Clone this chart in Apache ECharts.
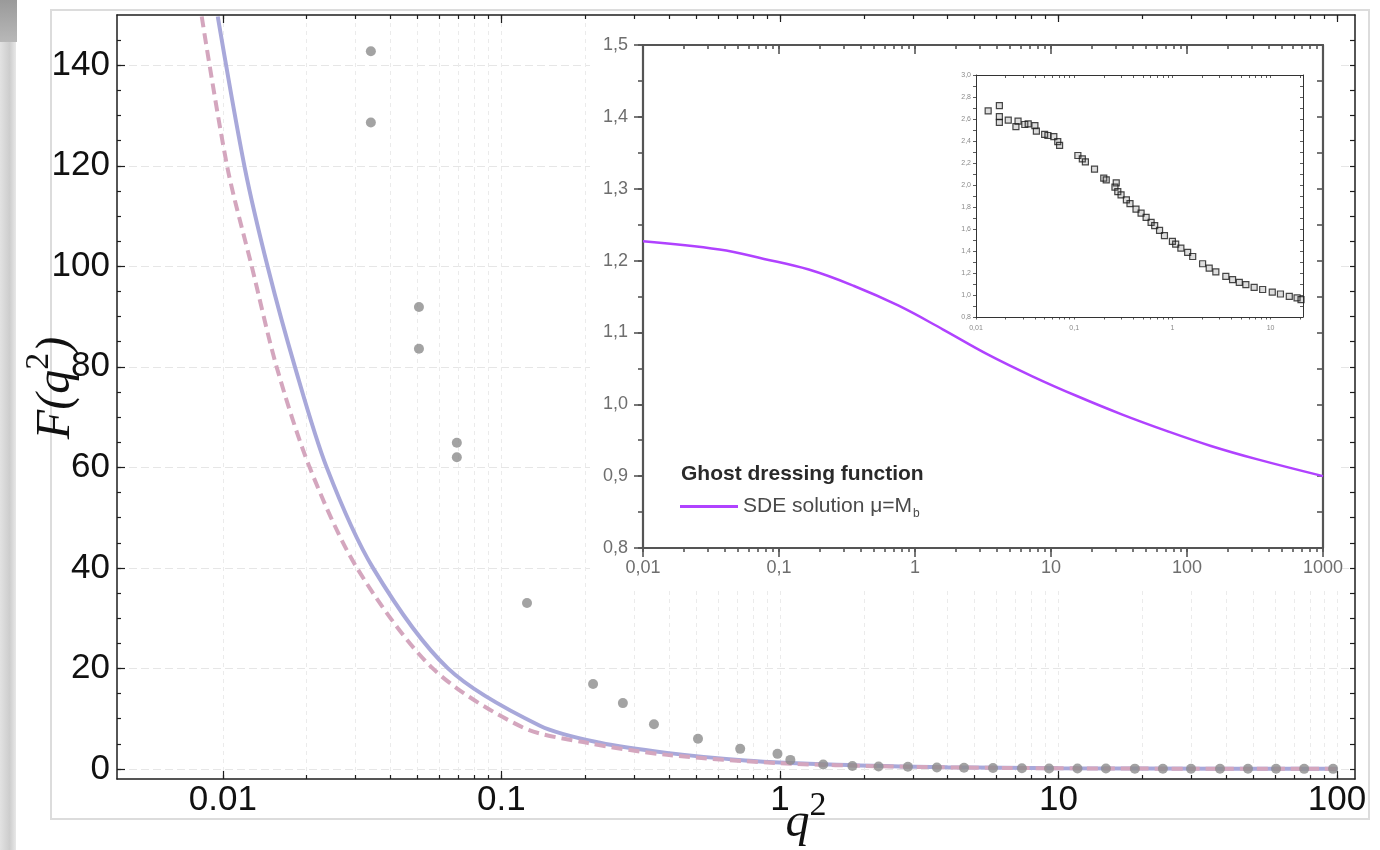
<!DOCTYPE html>
<html><head><meta charset="utf-8">
<script src="https://cdn.jsdelivr.net/npm/echarts@6/dist/echarts.min.js"></script>
<style>html,body{margin:0;padding:0;background:#fff}#c{width:1380px;height:850px}</style>
</head><body><div id="c"></div>
<script>
// ---------- main plot data ----------
const mainSolidQ2 = [0.00959, 0.0120, 0.01452, 0.01815, 0.0236, 0.0346, 0.0643, 0.1375, 0.226, 0.393, 0.75, 1.6, 4, 10, 40, 100];
const mainSolidF  = [149.7, 119.5, 99.7, 80, 60, 40, 20, 8.6, 5.2, 3.2, 1.7, 0.85, 0.35, 0.15, 0.04, 0.015];
const mainDashedQ2 = [0.0084, 0.0104, 0.0127, 0.0156, 0.0205, 0.0303, 0.0567, 0.119, 0.203, 0.393, 1.0, 2.5, 6.5, 20, 100];
const mainDashedF  = [149.7, 119.5, 100, 80, 60, 40, 20, 8.3, 5.2, 2.8, 1.15, 0.5, 0.2, 0.07, 0.013];
const mainPointsQ2 = [0.0340, 0.0340, 0.0506, 0.0506, 0.0692, 0.0692, 0.1236, 0.2134, 0.273, 0.353, 0.508, 0.72, 0.98, 1.09, 1.43, 1.82, 2.26, 2.88, 3.66, 4.58, 5.82, 7.39, 9.25, 11.7, 14.8, 18.8, 23.7, 29.9, 38.0, 47.9, 60.4, 76.2, 96.8];
const mainPointsF  = [142.8, 128.6, 91.9, 83.6, 64.9, 62.0, 33.0, 16.9, 13.1, 8.9, 6.0, 4.0, 3.0, 1.8, 0.9, 0.6, 0.5, 0.45, 0.3, 0.25, 0.2, 0.15, 0.1, 0.1, 0.08, 0.06, 0.05, 0.05, 0.04, 0.03, 0.03, 0.02, 0.02];
const mainXTickValues = [0.01, 0.1, 1, 10, 100];
const mainXTickLabels = ['0.01', '0.1', '1', '10', '100'];
const minorMultipliers = [2, 3, 4, 5, 6, 7, 8, 9];
const mainYTickValues = [0, 20, 40, 60, 80, 100, 120, 140];
const mainYTickLabels = ['0', '20', '40', '60', '80', '100', '120', '140'];
const mainYMinorValues = [0, 5, 10, 15, 20, 25, 30, 35, 40, 45, 50, 55, 60, 65, 70, 75, 80, 85, 90, 95, 100, 105, 110, 115, 120, 125, 130, 135, 140, 145];

// ---------- inset (ghost dressing function) ----------
const insetQ2 = [0.01, 0.0365, 0.0776, 0.1656, 0.353, 0.752, 1.61, 3.42, 7.29, 15.5, 33.1, 70.6, 150, 320, 1000];
const insetF  = [1.2268, 1.2153, 1.2023, 1.1875, 1.165, 1.1375, 1.104, 1.0695, 1.039, 1.0115, 0.986, 0.963, 0.942, 0.924, 0.900];
const insetXTickValues = [0.01, 0.1, 1, 10, 100, 1000];
const insetXTickLabels = ['0,01', '0,1', '1', '10', '100', '1000'];
const insetYTickValues = [0.8, 0.9, 1.0, 1.1, 1.2, 1.3, 1.4, 1.5];
const insetYTickLabels = ['0,8', '0,9', '1,0', '1,1', '1,2', '1,3', '1,4', '1,5'];
const insetYMinorValues = [0.8, 0.85, 0.9, 0.95, 1.0, 1.05, 1.1, 1.15, 1.2, 1.25, 1.3, 1.35, 1.4, 1.45, 1.5];

// ---------- inner inset (lattice data) ----------
const innerQ2 = [0.0133, 0.0173, 0.0173, 0.0173, 0.0213, 0.0255, 0.0268, 0.0314, 0.0340, 0.0398, 0.0412, 0.050, 0.054, 0.062, 0.068, 0.071, 0.109, 0.121, 0.130, 0.161, 0.20, 0.212, 0.268, 0.26, 0.278, 0.30, 0.34, 0.37, 0.426, 0.48, 0.54, 0.607, 0.66, 0.74, 0.83, 1.0, 1.08, 1.22, 1.43, 1.61, 2.03, 2.37, 2.77, 3.5, 4.1, 4.8, 5.6, 6.8, 8.3, 10.4, 12.6, 15.5, 18.6, 20.4];
const innerF  = [2.673, 2.722, 2.622, 2.57, 2.59, 2.53, 2.58, 2.55, 2.555, 2.54, 2.49, 2.46, 2.45, 2.44, 2.395, 2.36, 2.268, 2.237, 2.21, 2.144, 2.062, 2.047, 2.02, 1.98, 1.94, 1.91, 1.865, 1.83, 1.78, 1.744, 1.705, 1.66, 1.63, 1.587, 1.54, 1.487, 1.463, 1.427, 1.387, 1.35, 1.284, 1.245, 1.21, 1.17, 1.14, 1.115, 1.094, 1.07, 1.05, 1.027, 1.009, 0.988, 0.973, 0.958];
const innerXTickValues = [0.01, 0.1, 1, 10];
const innerXTickLabels = ['0,01', '0,1', '1', '10'];
const innerYTickValues = [0.8, 1.0, 1.2, 1.4, 1.6, 1.8, 2.0, 2.2, 2.4, 2.6, 2.8, 3.0];
const innerYTickLabels = ['0,8', '1,0', '1,2', '1,4', '1,6', '1,8', '2,0', '2,2', '2,4', '2,6', '2,8', '3,0'];
const innerYMinorValues = [0.8, 0.9, 1.0, 1.1, 1.2, 1.3, 1.4, 1.5, 1.6, 1.7, 1.8, 1.9, 2.0, 2.1, 2.2, 2.3, 2.4, 2.5, 2.6, 2.7, 2.8, 2.9, 3.0];

// ---------- helpers ----------
const L = Math.log10;
const LS = 'Liberation Sans', SERIF = 'Liberation Serif';
function withMinors(decades, last) {
  const out = [];
  decades.forEach(d => { out.push(d); minorMultipliers.forEach(m => out.push(+(d * m).toPrecision(6))); });
  if (last !== undefined) out.push(last);
  return out;
}
const mainXAll = withMinors([0.01, 0.1, 1, 10], 100);
const insetXAll = withMinors([0.01, 0.1, 1, 10, 100], 1000);
const innerXAll = withMinors([0.01, 0.1, 1], 10).concat([20]);
function fmtFor(vals, labels, useLog) {
  const keys = vals.map(v => useLog ? L(v) : v);
  return v => { const i = keys.findIndex(k => Math.abs(k - v) < 1e-6); return i < 0 ? '' : labels[i]; };
}
function pairs(xs, ys) { return xs.map((x, i) => [L(x), ys[i]]); }
function axis(o) {
  const base = {
    type: 'value', nameMoveOverlap: false,
    axisLine: { show: false, onZero: false },
    axisTick: { show: false },
    axisLabel: { show: false },
    splitLine: { show: false }, splitArea: { show: false }
  };
  return Object.assign(base, o);
}
const mainLine = { show: true, onZero: false, lineStyle: { color: '#1e1e1e', width: 1.5 } };
const mainTick = (vals, len) => ({ show: true, inside: true, length: len, customValues: vals, lineStyle: { color: '#1e1e1e', width: 1.2 } });
const insetLine = { show: true, onZero: false, lineStyle: { color: '#555', width: 2.2 } };
const insetTick = (vals, len, inside) => ({ show: true, inside: inside, length: len, customValues: vals, lineStyle: { color: '#555', width: 1.6 } });
const innerLine = { show: true, onZero: false, lineStyle: { color: '#333', width: 1 } };
const innerTick = (vals, len, inside) => ({ show: true, inside: inside, length: len, customValues: vals, lineStyle: { color: '#333', width: 0.8 } });

const MX = [L(0.00417), L(116)];
const XT = { min: -2, max: 3 };
const IX = { min: -2, max: 1.33 };

const xAxes = [
  // main bottom
  axis({ gridIndex: 0, position: 'bottom', min: MX[0], max: MX[1], z: 1,
    axisLine: mainLine, axisTick: mainTick(mainXAll.map(L), 4),
    axisLabel: { show: true, customValues: mainXTickValues.map(L), formatter: fmtFor(mainXTickValues, mainXTickLabels, true),
      margin: 4, fontSize: 35, color: '#111', fontFamily: LS },
    splitLine: { show: true, lineStyle: { color: '#ebebeb', width: 1, type: [4, 4] } },
    name: '{q|q}{s|2}', nameLocation: 'middle', nameGap: 10,
    nameTextStyle: { padding: [0, 0, 0, 140], rich: {
      q: { fontFamily: SERIF, fontStyle: 'italic', fontSize: 48, color: '#111', lineHeight: 58, verticalAlign: 'bottom' },
      s: { fontFamily: SERIF, fontSize: 34, color: '#111', lineHeight: 40, verticalAlign: 'top' } } } }),
  axis({ gridIndex: 0, position: 'bottom', min: MX[0], max: MX[1], z: 1, axisTick: mainTick(mainXTickValues.map(L), 8) }),
  // main top
  axis({ gridIndex: 0, position: 'top', min: MX[0], max: MX[1], z: 1, axisLine: mainLine, axisTick: mainTick(mainXAll.map(L), 4) }),
  axis({ gridIndex: 0, position: 'top', min: MX[0], max: MX[1], z: 1, axisTick: mainTick(mainXTickValues.map(L), 8) }),
  // inset bottom
  axis({ gridIndex: 1, position: 'bottom', min: XT.min, max: XT.max, z: 10, axisLine: insetLine,
    axisTick: insetTick(insetXAll.map(L), 4, false),
    axisLabel: { show: true, customValues: insetXTickValues.map(L), formatter: fmtFor(insetXTickValues, insetXTickLabels, true),
      margin: 11, fontSize: 18, color: '#6e6e6e', fontFamily: LS } }),
  axis({ gridIndex: 1, position: 'bottom', min: XT.min, max: XT.max, z: 10, axisTick: insetTick(insetXTickValues.map(L), 9, false) }),
  // inset top
  axis({ gridIndex: 1, position: 'top', min: XT.min, max: XT.max, z: 10, axisLine: insetLine, axisTick: insetTick(insetXAll.map(L), 4, true) }),
  axis({ gridIndex: 1, position: 'top', min: XT.min, max: XT.max, z: 10, axisTick: insetTick(insetXTickValues.map(L), 9, true) }),
  // inner bottom
  axis({ gridIndex: 2, position: 'bottom', min: IX.min, max: IX.max, z: 13, axisLine: innerLine,
    axisTick: innerTick(innerXAll.map(L), 2.5, false),
    axisLabel: { show: true, customValues: innerXTickValues.map(L), formatter: fmtFor(innerXTickValues, innerXTickLabels, true),
      margin: 8, fontSize: 7, color: '#8a8a8a', fontFamily: LS } }),
  // inner top
  axis({ gridIndex: 2, position: 'top', min: IX.min, max: IX.max, z: 13, axisLine: innerLine, axisTick: innerTick(innerXAll.map(L), 3, true) })
];

const yAxes = [
  // main left
  axis({ gridIndex: 0, position: 'left', min: -2, max: 150, z: 1, axisLine: mainLine,
    axisTick: mainTick(mainYTickValues, 8),
    axisLabel: { show: true, customValues: mainYTickValues, formatter: fmtFor(mainYTickValues, mainYTickLabels, false),
      margin: 7, fontSize: 35, color: '#111', fontFamily: LS },
    splitLine: { show: true, lineStyle: { color: '#e6e6e6', width: 1, type: [8, 4] } },
    name: '{f|F(q}{s|2}{f|)}', nameLocation: 'middle', nameRotate: 90, nameGap: 37,
    nameTextStyle: { padding: [0, 0, 0, 18], rich: {
      f: { fontFamily: SERIF, fontStyle: 'italic', fontSize: 48, color: '#111', lineHeight: 58, verticalAlign: 'bottom' },
      s: { fontFamily: SERIF, fontSize: 34, color: '#111', lineHeight: 40, verticalAlign: 'top' } } } }),
  axis({ gridIndex: 0, position: 'left', min: -2, max: 150, z: 1, axisTick: mainTick(mainYMinorValues, 4) }),
  // main right
  axis({ gridIndex: 0, position: 'right', min: -2, max: 150, z: 1, axisLine: mainLine, axisTick: mainTick(mainYMinorValues, 5) }),
  // inset left
  axis({ gridIndex: 1, position: 'left', min: 0.8, max: 1.5, z: 10, axisLine: insetLine,
    axisTick: insetTick(insetYTickValues, 9, false),
    axisLabel: { show: true, customValues: insetYTickValues, formatter: fmtFor(insetYTickValues, insetYTickLabels, false),
      margin: 15, fontSize: 18, color: '#6e6e6e', fontFamily: LS } }),
  axis({ gridIndex: 1, position: 'left', min: 0.8, max: 1.5, z: 10, axisTick: insetTick(insetYMinorValues, 5, false) }),
  // inset right
  axis({ gridIndex: 1, position: 'right', min: 0.8, max: 1.5, z: 10, axisLine: insetLine, axisTick: insetTick(insetYMinorValues, 6, true) }),
  // inner left
  axis({ gridIndex: 2, position: 'left', min: 0.8, max: 3.0, z: 13, axisLine: innerLine,
    axisTick: innerTick(innerYMinorValues, 3, false),
    axisLabel: { show: true, customValues: innerYTickValues, formatter: fmtFor(innerYTickValues, innerYTickLabels, false),
      margin: 5, fontSize: 7, color: '#8a8a8a', fontFamily: LS } }),
  // inner right
  axis({ gridIndex: 2, position: 'right', min: 0.8, max: 3.0, z: 13, axisLine: innerLine, axisTick: innerTick(innerYMinorValues, 3, true) })
];

const chart = echarts.init(document.getElementById('c'), null, { renderer: 'canvas' });
chart.setOption({
  backgroundColor: '#fff',
  animation: false,
  grid: [
    { left: 117, top: 15, width: 1238, height: 764, outerBoundsMode: 'none', containLabel: false },
    { left: 643, top: 45, width: 680, height: 503, outerBoundsMode: 'none', containLabel: false, z: 8 },
    { left: 976, top: 75, width: 327, height: 242, outerBoundsMode: 'none', containLabel: false, z: 12 }
  ],
  xAxis: xAxes,
  yAxis: yAxes,
  title: {
    text: 'Ghost dressing function', left: 681, top: 464, padding: 0, z: 20,
    textStyle: { fontSize: 21, fontWeight: 'bold', color: '#2a2a2a', fontFamily: LS }
  },
  legend: {
    left: 680, top: 496, padding: 0, z: 20, selectedMode: false,
    icon: 'rect', itemWidth: 58, itemHeight: 3,
    data: ['SDE solution μ=Mb'],
    formatter: () => '{a|SDE solution μ=M}{b|b}',
    textStyle: { color: '#4a4a4a', fontFamily: LS, fontSize: 21,
      rich: { a: { fontSize: 21, color: '#4a4a4a', fontFamily: LS }, b: { fontSize: 12, color: '#4a4a4a', fontFamily: LS, padding: [14, 0, 0, 1] } } }
  },
  graphic: { elements: [
    { type: 'rect', shape: { x: 0, y: 0, width: 16, height: 850 }, z: 0,
      style: { fill: new echarts.graphic.LinearGradient(0, 0, 1, 0, [{ offset: 0, color: '#e2e2e2' }, { offset: 0.6, color: '#cdcdcd' }, { offset: 1, color: '#e8e8e8' }]) } },
    { type: 'rect', shape: { x: 0, y: 0, width: 17, height: 42 }, z: 0,
      style: { fill: new echarts.graphic.LinearGradient(0, 0, 0, 1, [{ offset: 0, color: '#9a9a9a' }, { offset: 1, color: '#b8b8b8' }]) } },
    { type: 'rect', shape: { x: 51, y: 10, width: 1318, height: 809 }, z: 0,
      style: { fill: 'none', stroke: '#dcdcdc', lineWidth: 2 } },
    { type: 'rect', shape: { x: 590, y: 22, width: 750, height: 568 }, z: 5,
      style: { fill: '#ffffff' } }
  ] },
  series: [
    { type: 'line', name: 'solid', xAxisIndex: 0, yAxisIndex: 0, data: pairs(mainSolidQ2, mainSolidF),
      showSymbol: false, smooth: 0.3, clip: true, z: 2, silent: true,
      lineStyle: { color: '#a8a8da', width: 4 } },
    { type: 'line', name: 'dashed', xAxisIndex: 0, yAxisIndex: 0, data: pairs(mainDashedQ2, mainDashedF),
      showSymbol: false, smooth: 0.3, clip: true, z: 3, silent: true,
      lineStyle: { color: '#d4a6be', width: 4, type: [11, 6] } },
    { type: 'scatter', name: 'points', xAxisIndex: 0, yAxisIndex: 0, data: pairs(mainPointsQ2, mainPointsF),
      symbolSize: 10, z: 4, silent: true, itemStyle: { color: '#8c8c8c' } },
    { type: 'line', name: 'SDE solution μ=Mb', xAxisIndex: 4, yAxisIndex: 3, data: pairs(insetQ2, insetF),
      showSymbol: false, smooth: 0.4, z: 12, silent: true,
      itemStyle: { color: '#b042ff' }, lineStyle: { color: '#b042ff', width: 2.5 } },
    { type: 'scatter', name: 'lattice', xAxisIndex: 8, yAxisIndex: 6, data: pairs(innerQ2, innerF),
      symbol: 'rect', symbolSize: 6, z: 14, silent: true,
      itemStyle: { color: 'rgba(90,90,90,0.25)', borderColor: '#1a1a1a', borderWidth: 1.2 } }
  ]
});
</script></body></html>
